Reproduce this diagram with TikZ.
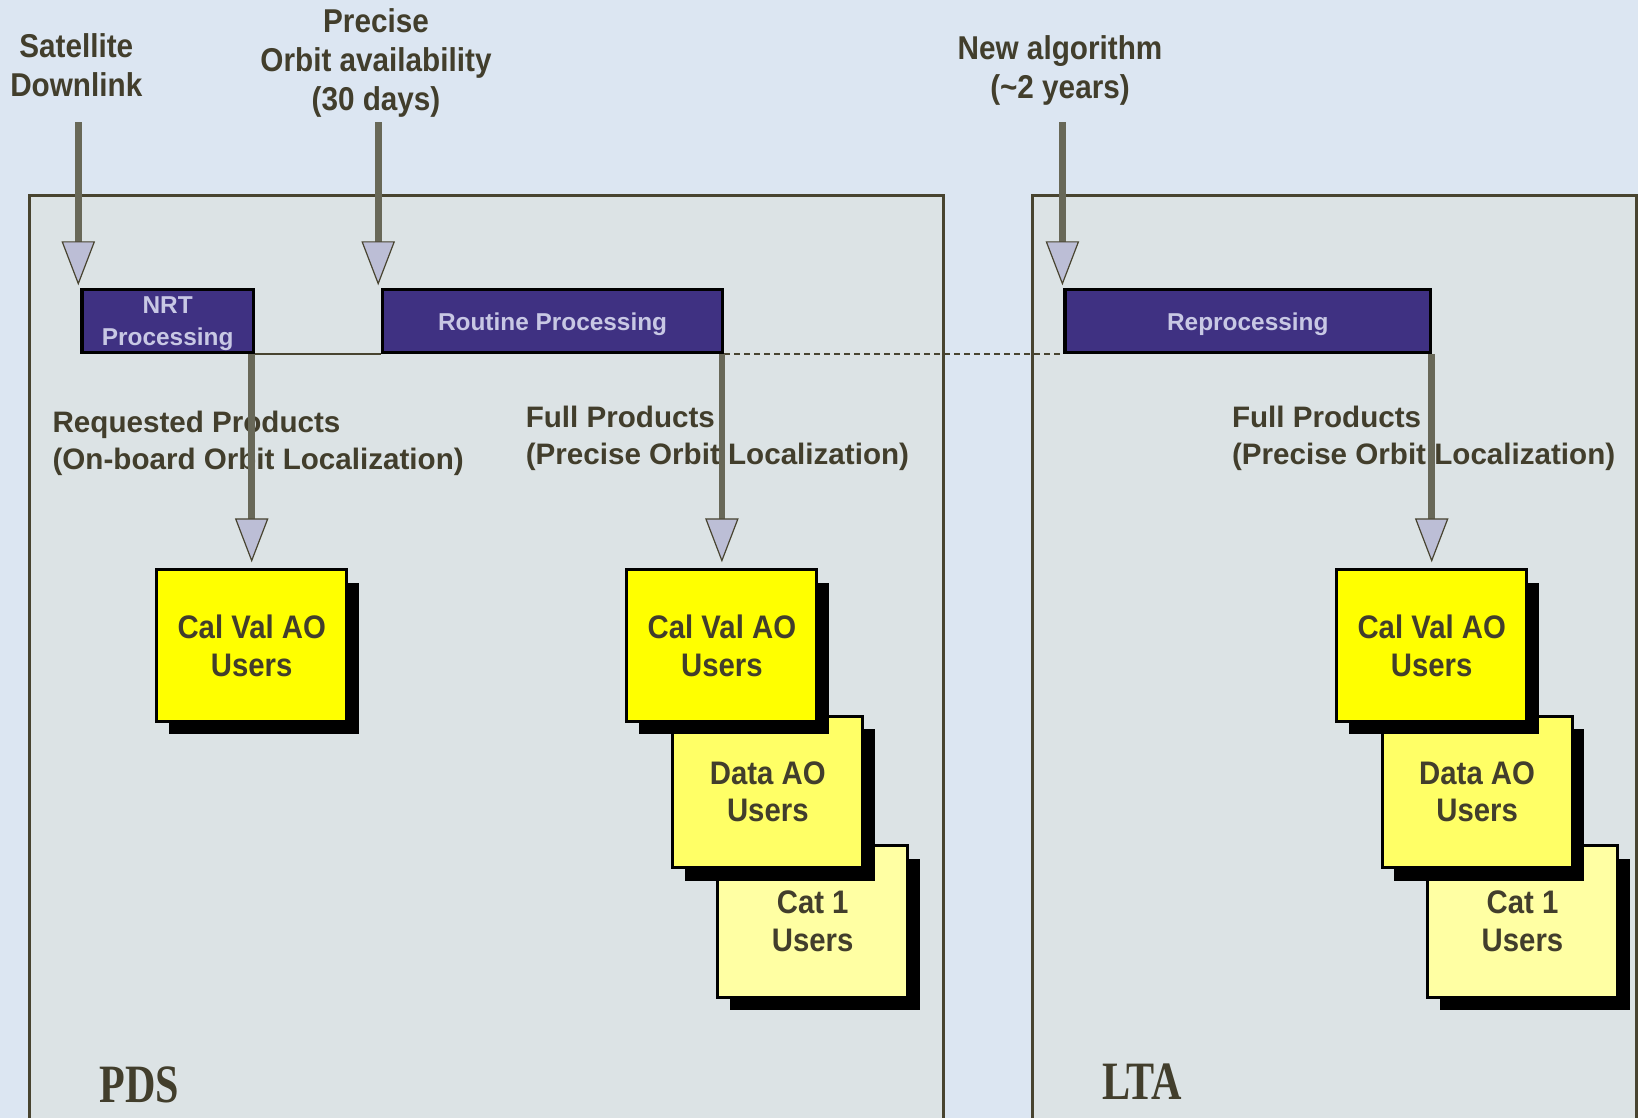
\documentclass[tikz,border=0pt]{standalone}
\usepackage{fontspec}
\setmainfont{Liberation Sans}
\newfontfamily\condfont[FakeStretch=0.9]{Liberation Sans}
\newfontfamily\titlefont[FakeStretch=0.78]{Liberation Serif}
\usetikzlibrary{arrows.meta,shadows,calc}
\definecolor{bgblue}{RGB}{220,230,242}
\definecolor{panel}{RGB}{220,227,229}
\definecolor{olive}{RGB}{72,68,48}
\definecolor{txt}{RGB}{66,62,44}
\definecolor{shaft}{RGB}{104,104,88}
\definecolor{tri}{RGB}{188,190,214}
\definecolor{proc}{RGB}{63,49,130}
\definecolor{proctxt}{RGB}{200,200,228}
\definecolor{yelA}{RGB}{255,255,0}
\definecolor{yelB}{RGB}{255,255,102}
\definecolor{yelC}{RGB}{255,255,163}
\tikzset{
  panelbox/.style={draw=olive, fill=panel, line width=1.5pt},
  procbox/.style={draw=black, fill=proc, line width=1.6pt, text=proctxt,
    font=\bfseries\fontsize{12.2}{15.7}\selectfont, align=center, inner sep=0pt,
    text depth=0pt, minimum height=31.3pt},
  userbox/.style={draw=black, line width=1.5pt, text=txt,
    font=\condfont\bfseries\fontsize{16.3}{18.8}\selectfont, align=center, inner sep=0pt,
    minimum width=95pt, minimum height=75.8pt,
    drop shadow={shadow xshift=6pt, shadow yshift=-6.5pt, fill=black, opacity=1}},
  toplabel/.style={text=txt, font=\condfont\bfseries\fontsize{16.5}{19.3}\selectfont,
    align=center, inner sep=0pt},
  prodlabel/.style={text=txt, font=\bfseries\fontsize{14.8}{18.8}\selectfont,
    align=left, inner sep=0pt, anchor=west},
  arealabel/.style={text=txt, font=\titlefont\bfseries\fontsize{27}{27}\selectfont,
    inner sep=0pt, anchor=base west},
  flow/.style={draw=shaft, line width=3.3pt,
    -{Triangle[length=22pt, width=16.7pt, line width'=0.6pt, fill=tri, color=olive]}},
  thinconn/.style={draw=olive, line width=0.8pt},
  dashconn/.style={draw=olive, line width=1pt, dash pattern=on 3pt off 2pt}
}
\begin{document}
\begin{tikzpicture}[x=0.5pt, y=-0.5pt]
\useasboundingbox (0,0) rectangle (1638,1118);
\clip (0,0) rectangle (1638,1118);
\fill[bgblue] (0,0) rectangle (1638,1118);

% panels
\draw[panelbox] (29.2,195.3) rectangle (943.3,1140);
\draw[panelbox] (1032,195.3) rectangle (1636.5,1140);

% processing boxes
\node[procbox, minimum width=85.75pt] (nrt) at (167.65,321.2) {NRT\\Processing};
\node[procbox, minimum width=169.8pt] (routine) at (552.6,321.2) {Routine Processing};
\node[procbox, minimum width=182.9pt] (reproc) at (1247.8,321.2) {Reprocessing};

% top labels
\node[toplabel] (satLbl) at (76.3,65.3) {Satellite\\Downlink};
\node[toplabel] (preLbl) at (376,63) {Precise\\Orbit availability\\(30 days)};
\node[toplabel] (newLbl) at (1060,70.5) {New algorithm\\(\textasciitilde2 years)};

% product labels
\node[prodlabel] (reqLbl) at (52.2,443.3) {Requested Products\\(On-board Orbit Localization)};
\node[prodlabel] (fullA) at (525.4,438.3) {Full Products\\(Precise Orbit Localization)};
\node[prodlabel] (fullB) at (1231.6,438.3) {Full Products\\(Precise Orbit Localization)};

% area labels
\node[arealabel] (pds) at (99.2,1102) {PDS};
\node[arealabel] (lta) at (1102,1099) {LTA};

% user boxes (back to front)
\node[userbox, fill=yelA] (calA) at (251.7,645.6) {Cal Val AO\\Users};

\node[userbox, fill=yelC] (catB) at (812.7,921.3) {Cat 1\\Users};
\node[userbox, fill=yelB] (dataB) at (767.8,791.8) {Data AO\\Users};
\node[userbox, fill=yelA] (calB) at (721.9,645.6) {Cal Val AO\\Users};

\node[userbox, fill=yelC] (catC) at (1522.5,921.3) {Cat 1\\Users};
\node[userbox, fill=yelB] (dataC) at (1477.1,791.8) {Data AO\\Users};
\node[userbox, fill=yelA] (calC) at (1431.7,645.6) {Cal Val AO\\Users};

% connectors between processing boxes
\draw[thinconn] (nrt.south east) -- (routine.south west);
\draw[dashconn] (routine.south east) -- (reproc.south west);

% incoming arrows
\coordinate (satTop) at (78.3,122.2);
\coordinate (preTop) at (378.2,122.2);
\coordinate (newTop) at (1062.4,122.2);
\draw[flow, shorten >=1.5pt] (satTop) -- (satTop |- nrt.north);
\draw[flow, shorten >=1.5pt] (preTop) -- (preTop |- routine.north);
\draw[flow, shorten >=1.5pt] (newTop) -- (newTop |- reproc.north);

% outgoing arrows
\draw[flow, shorten >=3pt] (calA.north |- nrt.south) -- (calA.north);
\draw[flow, shorten >=3pt] (calB.north |- routine.south) -- (calB.north);
\draw[flow, shorten >=3pt] (calC.north |- reproc.south) -- (calC.north);
\end{tikzpicture}
\end{document}
